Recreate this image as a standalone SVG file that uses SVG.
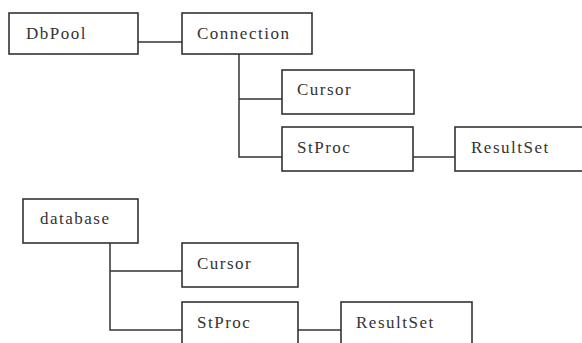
<svg xmlns="http://www.w3.org/2000/svg" width="582" height="343" viewBox="0 0 582 343">
<style>
.box{fill:#fff;stroke:#333;stroke-width:1.6}
.lbl{font-family:"Liberation Serif",serif;font-size:17px;letter-spacing:1.5px;fill:#333}
.c{stroke:#333;stroke-width:1.5;fill:none}
</style>
<rect width="582" height="343" fill="#fff"/>
<g id="connectors">
<path class="c" d="M138 42H182"/>
<path class="c" d="M239 54V157H282M239 99H282"/>
<path class="c" d="M413 157H455"/>
<path class="c" d="M110 243V330H182M110 271H182"/>
<path class="c" d="M298 330H341"/>
</g>
<g id="dbpool"><rect class="box" x="9" y="13" width="129" height="41"/><text class="lbl" x="26" y="39">DbPool</text></g>
<g id="connection"><rect class="box" x="182" y="13" width="130" height="41"/><text class="lbl" x="197" y="39">Connection</text></g>
<g id="cursor1"><rect class="box" x="282" y="70" width="132" height="44"/><text class="lbl" x="297" y="95">Cursor</text></g>
<g id="stproc1"><rect class="box" x="282" y="127" width="131" height="44"/><text class="lbl" x="297" y="153">StProc</text></g>
<g id="resultset1"><rect class="box" x="455" y="127" width="131" height="44"/><text class="lbl" x="471" y="153">ResultSet</text></g>
<g id="database"><rect class="box" x="23" y="199" width="115" height="44"/><text class="lbl" x="40" y="224">database</text></g>
<g id="cursor2"><rect class="box" x="182" y="243" width="116" height="44"/><text class="lbl" x="197" y="269">Cursor</text></g>
<g id="stproc2"><rect class="box" x="182" y="302" width="116" height="44"/><text class="lbl" x="197" y="328">StProc</text></g>
<g id="resultset2"><rect class="box" x="341" y="302" width="131" height="44"/><text class="lbl" x="356" y="328">ResultSet</text></g>
</svg>
